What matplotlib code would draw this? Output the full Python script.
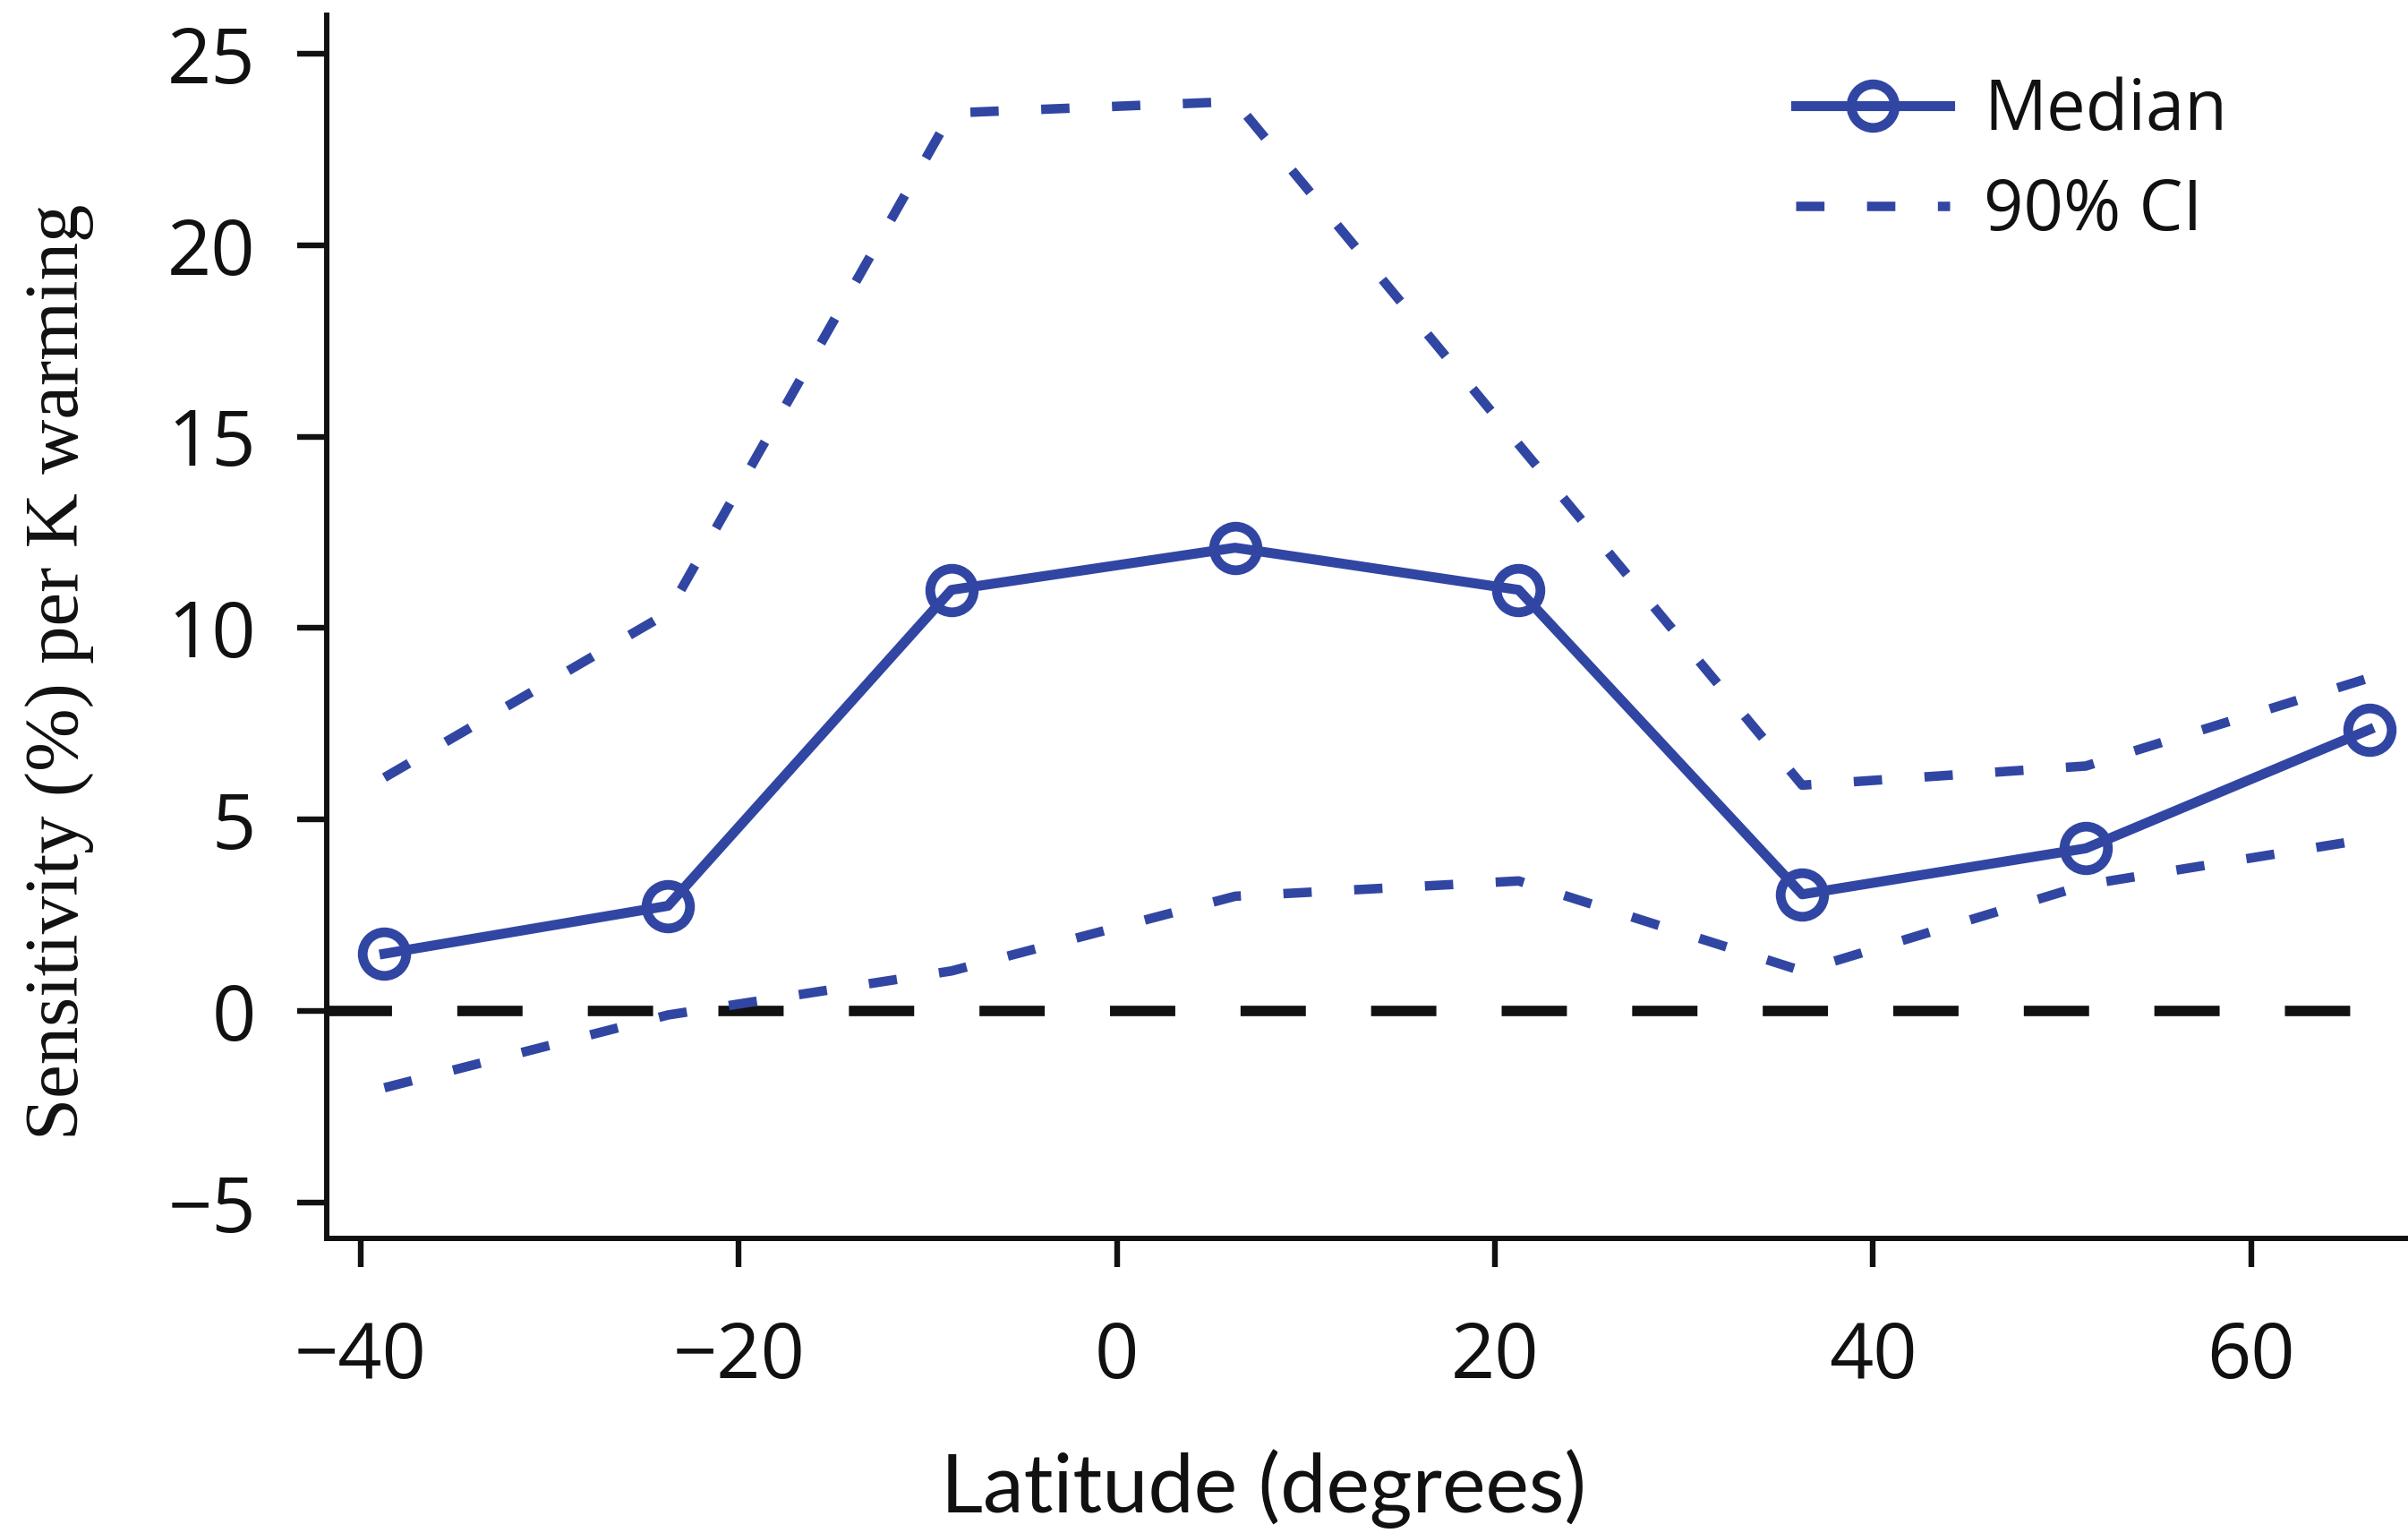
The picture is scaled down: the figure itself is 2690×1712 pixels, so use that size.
import numpy as np
import matplotlib as mpl
import matplotlib.pyplot as plt

# latitude band centres (degrees) and sensitivity (% per K warming)
LAT = [-38.75, -23.75, -8.75, 6.25, 21.25, 36.25, 51.25, 66.25]
MEDIAN = [1.5, 2.75, 11.0, 12.1, 11.0, 3.05, 4.25, 7.35]
CI_HI = [6.1, 10.4, 23.45, 23.75, 14.8, 5.9, 6.4, 8.7]
CI_LO = [-2.0, -0.1, 1.05, 3.0, 3.4, 1.05, 3.3, 4.5]

XTICKS = [-40, -20, 0, 20, 40, 60]
YTICKS = [-5, 0, 5, 10, 15, 20, 25]

BLUE = "#3146a3"
INK = "#111111"
SANS = ["Open Sans", "DejaVu Sans"]

mpl.rcParams.update({
    "font.family": SANS,
    "axes.linewidth": 4.3,
    "axes.edgecolor": INK,
    "xtick.major.size": 23, "ytick.major.size": 24,
    "xtick.major.width": 4.6, "ytick.major.width": 4.6,
    "xtick.major.pad": 42, "ytick.major.pad": 33,
    "xtick.color": INK, "ytick.color": INK,
})

fig = plt.figure(figsize=(26.9, 17.12), dpi=100)
ax = fig.add_axes([0.1357, 0.192, 0.8643, 0.798])

# zero reference
ax.plot([-41.8, 65.6], [0, 0], color=INK, linewidth=8.4,
        dashes=(6.25, 6.25), dash_capstyle="butt", zorder=2)

ax.plot(LAT, MEDIAN, color=BLUE, linewidth=8, marker="o", markersize=35,
        markerfacecolor="none", markeredgecolor=BLUE, markeredgewidth=7.8,
        label="Median", zorder=4, clip_on=False)
ax.plot(LAT, CI_HI, color=BLUE, linewidth=7.6, dashes=(3.0, 4.5),
        dash_capstyle="butt", label="90% CI", zorder=3)
ax.plot(LAT, CI_LO, color=BLUE, linewidth=7.6, dashes=(3.0, 4.5),
        dash_capstyle="butt", zorder=3)

ax.set_xlim(-41.8, 68.3)
ax.set_ylim(-5.94, 26.0)
ax.set_xticks(XTICKS)
ax.set_yticks(YTICKS)
ax.tick_params(labelsize=62)
ax.spines["top"].set_visible(False)
ax.spines["right"].set_visible(False)

ax.set_xlabel("Latitude (degrees)", fontsize=66, color=INK,
              family=["Lato", "DejaVu Sans"])
ax.xaxis.set_label_coords(0.45, -0.172)
ax.set_ylabel("Sensitivity (%) per K warming", fontsize=61, color=INK,
              family=["Liberation Serif", "DejaVu Serif"])
ax.yaxis.set_label_coords(-0.112, 0.463)

ax.legend(loc="upper left", bbox_to_anchor=(0.706, 0.950), frameon=False,
          fontsize=56, borderaxespad=0, borderpad=0, handlelength=2.2,
          handletextpad=0.5, labelspacing=0.42, labelcolor=INK)

fig.savefig("out.png", dpi=100)
